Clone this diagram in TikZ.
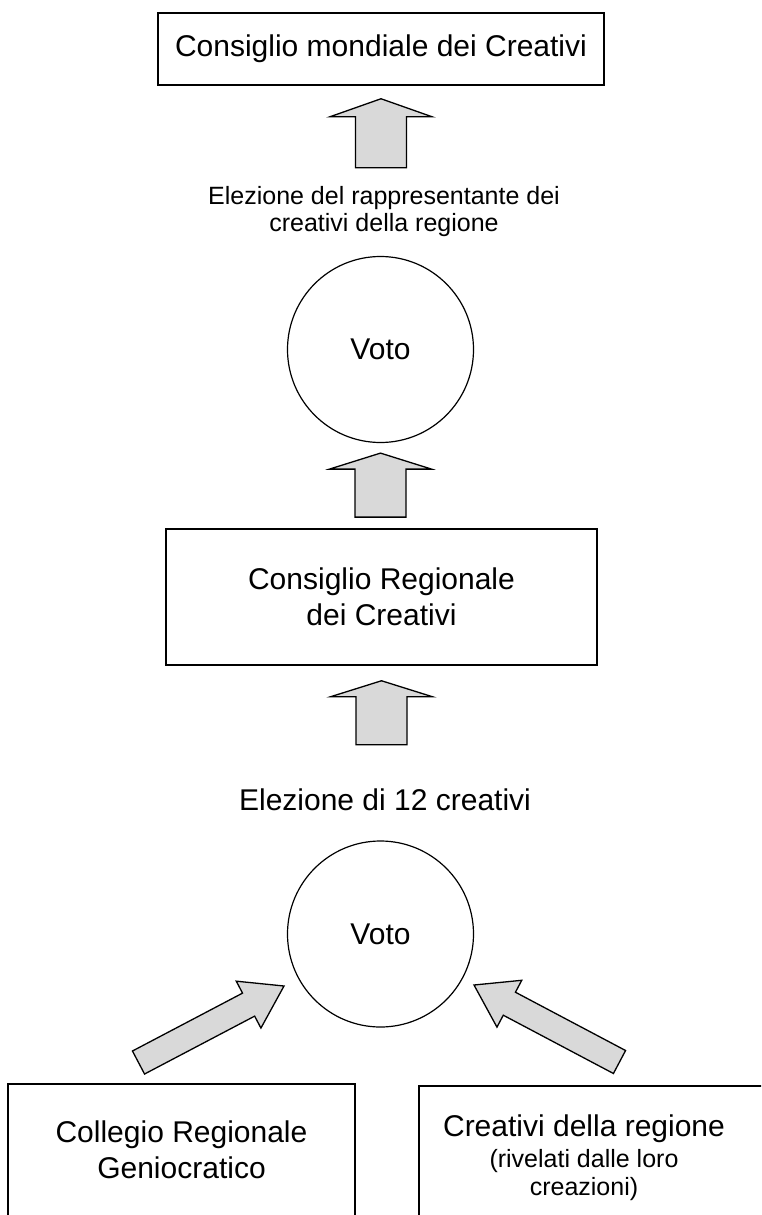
\documentclass[tikz,border=0pt]{standalone}
\usepackage{fontspec}
\setmainfont{Liberation Sans}
\usetikzlibrary{calc}

\definecolor{arrowgray}{RGB}{217,217,217}

% block arrow: tail, tip, half shaft, half head, head length
\newcommand{\fatarrow}[5]{%
  \coordinate (fa_base) at ($(#2)!#5!(#1)$);
  \draw[fat_arrow] ($(#1)!#3!90:(#2)$) -- ($(fa_base)!#3!90:(#2)$)
    -- ($(fa_base)!#4!90:(#2)$) -- (#2)
    -- ($(fa_base)!#4!-90:(#2)$) -- ($(fa_base)!#3!-90:(#2)$)
    -- ($(#1)!#3!-90:(#2)$) -- cycle;
}

\begin{document}
\begin{tikzpicture}
  [x=1pt, y=-1pt]
  \tikzstyle{big_text}    = [font=\fontsize{30}{36}\selectfont, align=center];
  \tikzstyle{small_text}  = [font=\fontsize{25}{27}\selectfont, align=center];
  \tikzstyle{box}         = [draw=black, line width=1.5pt, rectangle, inner sep=0pt];
  \tikzstyle{vote_circle} = [draw=black, line width=1.2pt, circle, minimum size=186pt, inner sep=0pt, big_text];
  \tikzstyle{fat_arrow}   = [draw=black, line width=1.3pt, fill=arrowgray, line join=miter];

  \clip (0, 0) rectangle (761, 1215);

  \node[box, big_text, minimum width=446, minimum height=72] (world) at (381, 49) {Consiglio mondiale dei Creativi};
  \node[small_text] (rep_label) at (384, 212) {Elezione del rappresentante dei\\creativi della regione};
  \node[vote_circle] (vote_top) at (380.5, 349.5) {Voto};

  \node[box, big_text, minimum width=431, minimum height=136] (regional) at (381.5, 597) {Consiglio Regionale\\dei Creativi};
  \node[big_text] (twelve_label) at (385, 800) {Elezione di 12 creativi};
  \node[vote_circle] (vote_bottom) at (380.5, 934) {Voto};

  \node[box, big_text, minimum width=347, minimum height=132] (college) at (181.5, 1150) {Collegio Regionale\\Geniocratico};
  \node[box, minimum width=352, minimum height=140, anchor=north west] (creatives) at (418, 1085) {};
  \node[align=center, font=\fontsize{25}{28}\selectfont] (creatives_text) at (584, 1158)
    {{\fontsize{30}{36}\selectfont Creativi della regione}\\[3pt] (rivelati dalle loro\\creazioni)};

  % arrows
  \coordinate (a1_tip)  at ($(world.south)+(0, 13)$);
  \coordinate (a1_tail) at ($(a1_tip)+(0, 69)$);
  \coordinate (a2_tip)  at ($(vote_top.south)+(0, 10)$);
  \coordinate (a2_tail) at ($(a2_tip)+(0, 64)$);
  \coordinate (a3_tip)  at ($(regional.south)+(0, 15)$);
  \coordinate (a3_tail) at ($(a3_tip)+(0, 64)$);

  \coordinate (l_tip)  at (284, 986);
  \coordinate (l_tail) at (138.5, 1062.5);
  \coordinate (r_tip)  at (474, 985);
  \coordinate (r_tail) at (619.5, 1062);

  \fatarrow{a1_tail}{a1_tip}{25.5pt}{51pt}{18pt}
  \fatarrow{a2_tail}{a2_tip}{25.5pt}{51pt}{16pt}
  \fatarrow{a3_tail}{a3_tip}{25.5pt}{51pt}{16pt}
  \fatarrow{l_tail}{l_tip}{13pt}{26.5pt}{40pt}
  \fatarrow{r_tail}{r_tip}{13pt}{26.5pt}{40pt}

\end{tikzpicture}
\end{document}
